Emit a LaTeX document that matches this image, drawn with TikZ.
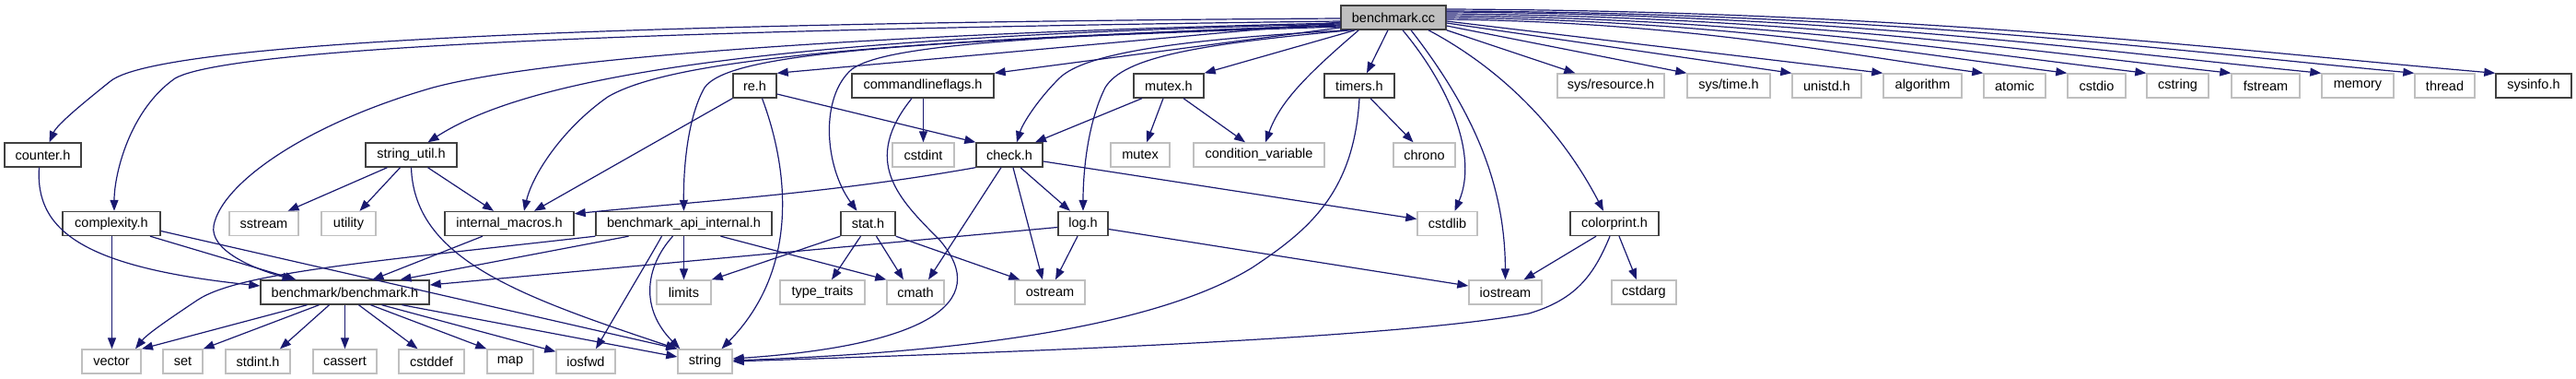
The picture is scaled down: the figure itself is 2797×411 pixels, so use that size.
\documentclass[tikz,border=0pt]{standalone}
\usepackage{fontspec}
\setmainfont{Liberation Sans}
\usetikzlibrary{arrows.meta}
\definecolor{edgec}{HTML}{191970}
\definecolor{sysc}{HTML}{BFBFBF}
\definecolor{ownc}{HTML}{404040}
\begin{document}
\begin{tikzpicture}[x=1pt,y=-1pt,
  box/.style={draw, inner sep=0pt, minimum height=26pt, line width=1.4pt, font=\fontsize{14.5pt}{16pt}\selectfont},
  own/.style={box, draw=ownc},
  sys/.style={box, draw=sysc},
  root/.style={box, draw=ownc, fill=sysc},
  edge/.style={draw=edgec, line width=1.2pt, -{Triangle[length=12pt,width=9pt]}},
]
\useasboundingbox (0,0) rectangle (2797,411);
% row 1
\node[root, minimum width=114pt] (bcc) at (1513,19) {benchmark.cc};
% row 2
\node[own, minimum width=47pt] (re) at (819.5,93) {re.h};
\node[own, minimum width=154pt] (clf) at (1002,93) {commandlineflags.h};
\node[own, minimum width=76pt] (mutexh) at (1269,93) {mutex.h};
\node[own, minimum width=76pt] (timers) at (1476,93) {timers.h};
\node[sys, minimum width=116pt] (sysres) at (1749,93) {sys/resource.h};
\node[sys, minimum width=90pt] (systime) at (1877,93) {sys/time.h};
\node[sys, minimum width=75pt] (unistd) at (1983.5,93) {unistd.h};
\node[sys, minimum width=85pt] (algorithm) at (2087.5,93) {algorithm};
\node[sys, minimum width=67pt] (atomic) at (2187.5,93) {atomic};
\node[sys, minimum width=63pt] (cstdio) at (2276.5,93) {cstdio};
\node[sys, minimum width=67pt] (cstring) at (2364.5,93) {cstring};
\node[sys, minimum width=74pt] (fstream) at (2460,93) {fstream};
\node[sys, minimum width=78pt] (memory) at (2560,93) {memory};
\node[sys, minimum width=65pt] (thread) at (2654.5,93) {thread};
\node[own, minimum width=82pt] (sysinfo) at (2751,93) {sysinfo.h};
% row 3
\node[own, minimum width=83pt] (counter) at (46.5,168) {counter.h};
\node[own, minimum width=99pt] (su) at (446.5,168) {string\_util.h};
\node[sys, minimum width=67pt] (cstdint) at (1002.5,168) {cstdint};
\node[own, minimum width=72pt] (check) at (1096,168) {check.h};
\node[sys, minimum width=64pt] (mutex) at (1238,168) {mutex};
\node[sys, minimum width=142pt] (condvar) at (1367,168) {condition\_variable};
\node[sys, minimum width=67pt] (chrono) at (1546.5,168) {chrono};
% row 4
\node[own, minimum width=106pt] (complexity) at (121,242.5) {complexity.h};
\node[sys, minimum width=75pt] (sstream) at (286.5,242.5) {sstream};
\node[sys, minimum width=59pt] (utility) at (378.5,242.5) {utility};
\node[own, minimum width=140pt] (intmac) at (553,242.5) {internal\_macros.h};
\node[own, minimum width=191pt] (api) at (742.5,242.5) {benchmark\_api\_internal.h};
\node[own, minimum width=59pt] (stat) at (942.5,242.5) {stat.h};
\node[own, minimum width=54pt] (log) at (1176,242.5) {log.h};
\node[sys, minimum width=65pt] (cstdlib) at (1571.5,242.5) {cstdlib};
\node[own, minimum width=96pt] (colorprint) at (1753,242.5) {colorprint.h};
% row 5
\node[own, minimum width=183pt] (bh) at (374.5,317) {benchmark/benchmark.h};
\node[sys, minimum width=59pt] (limits) at (742.5,317) {limits};
\node[sys, minimum width=92pt] (typetraits) at (893,317) {type\_traits};
\node[sys, minimum width=62pt] (cmath) at (994,317) {cmath};
\node[sys, minimum width=76pt] (ostream) at (1140,317) {ostream};
\node[sys, minimum width=79pt] (iostream) at (1634.5,317) {iostream};
\node[sys, minimum width=70pt] (cstdarg) at (1785,317) {cstdarg};
% row 6
\node[sys, minimum width=64pt] (vector) at (121,392) {vector};
\node[sys, minimum width=43pt] (set) at (198.5,392) {set};
\node[sys, minimum width=70pt] (stdint) at (280,392) {stdint.h};
\node[sys, minimum width=69pt] (cassert) at (374.5,392) {cassert};
\node[sys, minimum width=71pt] (cstddef) at (468.5,392) {cstddef};
\node[sys, minimum width=50pt] (map) at (554,392) {map};
\node[sys, minimum width=64pt] (iosfwd) at (636,392) {iosfwd};
\node[sys, minimum width=59pt] (string) at (765.5,392) {string};

% ---- edges from benchmark.cc
\draw[edge] ([yshift=-1pt]bcc.west) .. controls (800,24) and (180,40) .. (120,88) .. controls (90,112) and (62,135) .. ([xshift=7pt]counter.north);
\draw[edge] ([yshift=-4pt]bcc.west) .. controls (900,30) and (260,45) .. (190,85) .. controls (140,120) and (124,190) .. ([xshift=3pt]complexity.north);
\draw[edge] ([yshift=-6pt]bcc.west) .. controls (1000,35) and (600,60) .. (470,95) .. controls (330,135) and (240,200) .. (232,245) .. controls (228,270) and (270,290) .. ([xshift=-56pt]bh.north);
\draw[edge] ([yshift=-7pt]bcc.west) .. controls (850,40) and (580,80) .. ([xshift=18pt]su.north);
\draw[edge] ([yshift=-9pt]bcc.west) .. controls (900,45) and (720,70) .. (660,105) .. controls (610,140) and (578,190) .. ([xshift=16pt]intmac.north);
\draw[edge] ([yshift=-10pt]bcc.west) .. controls (950,45) and (790,60) .. (765,95) .. controls (745,130) and (742,190) .. (api.north);
\draw[edge] ([yshift=-5pt]bcc.west) -- (re.north east);
\draw[edge] ([yshift=-11pt]bcc.west) -- (clf.north east);
\draw[edge] ([yshift=-8pt]bcc.west) .. controls (1100,40) and (960,50) .. (925,75) .. controls (890,105) and (895,180) .. ([xshift=-12pt]stat.north);
\draw[edge] ([xshift=8pt]bcc.south west) .. controls (1300,42) and (1180,55) .. (1150,85) .. controls (1125,110) and (1110,135) .. ([xshift=8pt]check.north);
\draw[edge] ([xshift=12pt]bcc.south west) .. controls (1300,48) and (1220,62) .. (1200,95) .. controls (1180,135) and (1176,190) .. (log.north);
\draw[edge] ([xshift=16pt]bcc.south west) -- (mutexh.north east);
\draw[edge] ([xshift=20pt]bcc.south west) .. controls (1420,80) and (1390,110) .. ([xshift=7pt]condvar.north);
\draw[edge] ([xshift=-6pt]bcc.south) -- ([xshift=8pt]timers.north);
\draw[edge] ([xshift=10pt]bcc.south) .. controls (1575,95) and (1605,170) .. ([xshift=8pt]cstdlib.north);
\draw[edge] ([xshift=19pt]bcc.south) .. controls (1600,120) and (1634,200) .. (iostream.north);
\draw[edge] ([xshift=38pt]bcc.south) .. controls (1640,80) and (1700,150) .. ([xshift=-12pt]colorprint.north);
\draw[edge] (bcc.south east) -- ([xshift=20pt]sysres.north west);
\draw[edge] ([yshift=-9pt]bcc.east) -- (systime.north west);
\draw[edge] ([yshift=-6pt]bcc.east) -- (unistd.north west);
\draw[edge] ([yshift=-4pt]bcc.east) -- (algorithm.north west);
\draw[edge] ([yshift=-2pt]bcc.east) .. controls (1833,24) and (2008,60) .. (atomic.north west);
\draw[edge] ([yshift=0pt]bcc.east) .. controls (1873,22) and (2076,58) .. (cstdio.north west);
\draw[edge] ([yshift=2pt]bcc.east) .. controls (1912,20) and (2141,57) .. (cstring.north west);
\draw[edge] ([yshift=4pt]bcc.east) .. controls (1954,18) and (2210,56) .. (fstream.north west);
\draw[edge] ([yshift=6pt]bcc.east) .. controls (1999,16) and (2284,56) .. (memory.north west);
\draw[edge] ([yshift=7pt]bcc.east) .. controls (2044,14) and (2360,55) .. (thread.north west);
\draw[edge] ([yshift=9pt]bcc.east) .. controls (2083,12) and (2425,55) .. (sysinfo.north west);

% ---- other edges
\draw[edge] ([xshift=-4pt]counter.south) .. controls (38,250) and (90,290) .. ([yshift=7pt]bh.west);
\draw[edge] ([xshift=42pt]complexity.south) -- ([xshift=-53pt]bh.north);
\draw[edge] ([xshift=0.5pt]complexity.south) -- ([xshift=0.5pt]vector.north);
\draw[edge] ([yshift=-8pt]complexity.east) -- (string.north west);
\draw[edge] ([xshift=-29pt]intmac.south) -- ([xshift=30pt]bh.north);
\draw[edge] ([xshift=-60pt]api.south) -- ([xshift=60pt]bh.north);
\draw[edge] (api.south west) .. controls (400,284) and (260,296) .. (215,325) .. controls (185,345) and (160,362) .. ([xshift=26pt]vector.north);
\draw[edge] (api.south) -- (limits.north);
\draw[edge] ([xshift=-12pt]api.south) .. controls (700,290) and (695,335) .. ([xshift=3pt]string.north west);
\draw[edge] ([xshift=-24pt]api.south) .. controls (708,275) and (690,305) .. ([xshift=11pt]iosfwd.north);
\draw[edge] ([xshift=40pt]api.south) -- (cmath.north west);
\draw[edge] ([xshift=-41pt]bh.south) -- ([xshift=33pt]vector.north);
\draw[edge] ([xshift=-28pt]bh.south) -- (set.north east);
\draw[edge] ([xshift=-17pt]bh.south) -- ([xshift=24pt]stdint.north);
\draw[edge] (bh.south) -- (cassert.north);
\draw[edge] ([xshift=15pt]bh.south) -- ([xshift=-15pt]cstddef.north);
\draw[edge] ([xshift=28pt]bh.south) -- (map.north west);
\draw[edge] ([xshift=40pt]bh.south) -- ([yshift=-3pt]iosfwd.north west);
\draw[edge] ([xshift=62pt]bh.south) -- ([yshift=5pt]string.west);
\draw[edge] ([xshift=-26pt]su.south) -- ([xshift=26pt]sstream.north);
\draw[edge] ([xshift=-12pt]su.south) -- ([xshift=12pt]utility.north);
\draw[edge] ([xshift=18pt]su.south) -- ([xshift=-17pt]intmac.north);
\draw[edge] (su.south) .. controls (450,280) and (560,320) .. (string.north west);
\draw[edge] (re.south west) -- ([xshift=27pt]intmac.north);
\draw[edge] ([yshift=-9pt]re.east) -- (check.north west);
\draw[edge] ([xshift=8pt]re.south) .. controls (855,180) and (870,290) .. ([xshift=18pt]string.north);
\draw[edge] ([xshift=0.5pt]clf.south) -- (cstdint.north);
\draw[edge] ([xshift=-12pt]clf.south) .. controls (935,175) and (975,215) .. (1020,260) .. controls (1080,330) and (1000,375) .. ([yshift=3pt]string.east);
\draw[edge] ([xshift=-29pt]mutexh.south) -- ([xshift=28pt]check.north);
\draw[edge] ([xshift=-6pt]mutexh.south) -- ([xshift=7pt]mutex.north);
\draw[edge] ([xshift=16pt]mutexh.south) -- ([xshift=-15pt]condvar.north);
\draw[edge] (check.south west) .. controls (900,210) and (760,218) .. ([yshift=-3pt]intmac.north east);
\draw[edge] ([xshift=12pt]check.south) -- ([xshift=-14pt]log.north);
\draw[edge] ([xshift=-9pt]check.south) -- ([xshift=14pt]cmath.north);
\draw[edge] ([xshift=4pt]check.south) -- ([xshift=-8pt]ostream.north);
\draw[edge] ([yshift=-7pt]check.east) -- ([yshift=5pt]cstdlib.west);
\draw[edge] (stat.south west) -- (limits.north east);
\draw[edge] ([xshift=-8pt]stat.south) -- ([xshift=10pt]typetraits.north);
\draw[edge] ([xshift=9pt]stat.south) -- ([xshift=-13pt]cmath.north);
\draw[edge] (stat.south east) -- ([xshift=6pt]ostream.north west);
\draw[edge] ([yshift=-4pt]log.west) -- ([yshift=8pt]bh.east);
\draw[edge] ([xshift=-6pt]log.south) -- ([xshift=6pt]ostream.north);
\draw[edge] ([yshift=-6pt]log.east) -- ([yshift=7pt]iostream.west);
\draw[edge] ([xshift=12pt]timers.south) -- ([xshift=-12pt]chrono.north);
\draw[edge] (timers.south) .. controls (1470,210) and (1420,250) .. (1360,290) .. controls (1230,370) and (950,385) .. ([yshift=1pt]string.east);
\draw[edge] ([xshift=-20pt]colorprint.south) -- ([xshift=20pt]iostream.north);
\draw[edge] ([xshift=5pt]colorprint.south) -- ([xshift=-8pt]cstdarg.north);
\draw[edge] ([xshift=-5pt]colorprint.south) .. controls (1730,300) and (1710,325) .. (1660,340) .. controls (1500,370) and (1000,385) .. (string.east);
\end{tikzpicture}
\end{document}
